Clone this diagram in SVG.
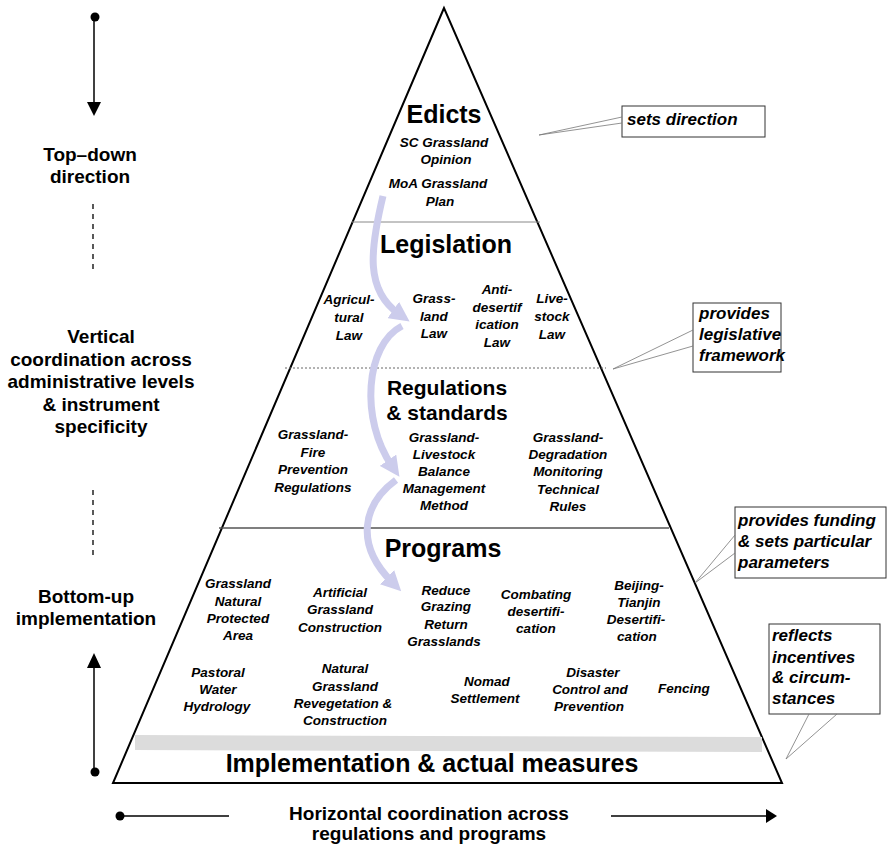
<svg xmlns="http://www.w3.org/2000/svg" width="887" height="845" viewBox="0 0 887 845">
<style>
.t{font-family:"Liberation Sans",Arial,sans-serif;font-weight:bold;text-anchor:middle;fill:#000}
.side{font-size:19px}
.lvl{font-size:25px}
.it{font-style:italic;font-size:13.5px}
.co{font-style:italic;font-size:17px;text-anchor:start}
.box{fill:#fff;stroke:#333;stroke-width:1}
.ptr{fill:none;stroke:#777;stroke-width:0.8}
.flow{fill:none;stroke:#ccccec;stroke-width:7}
</style>
<defs>
<marker id="fh" viewBox="0 -10 20 20" refX="7" refY="0" markerWidth="20" markerHeight="20" markerUnits="userSpaceOnUse" orient="auto">
<path d="M0,-10 L20,0 L0,10 z" fill="#ccccec"/>
</marker>
</defs>
<g id="pyramid">
<polygon points="444,8 113,783 782,783" fill="#fff" stroke="#000" stroke-width="2"/>
<polygon points="135,735 762,737 762,752 135,750" fill="#dcdcdc"/>
<line x1="352" y1="222" x2="540" y2="222" stroke="#888" stroke-width="1"/>
<line x1="285" y1="368" x2="606" y2="368" stroke="#666" stroke-width="1" stroke-dasharray="2,2"/>
<line x1="219" y1="528" x2="669" y2="528" stroke="#555" stroke-width="1.3"/>
</g>
<g id="connectors">
<path class="flow" d="M383,196 C370,250 365,290 399,314" marker-end="url(#fh)"/>
<path class="flow" d="M402,326 C365,345 360,420 392,466" marker-end="url(#fh)"/>
<path class="flow" d="M396,480 C362,505 355,545 392,582" marker-end="url(#fh)"/>
<line x1="94" y1="17" x2="94" y2="104" stroke="#000" stroke-width="1.5"/>
<polygon points="87,102 101,102 94,116" fill="#000"/>
<circle cx="95" cy="17" r="4.5" fill="#000"/>
<line x1="93" y1="204" x2="93" y2="272" stroke="#000" stroke-width="1.3" stroke-dasharray="5,5"/>
<line x1="93" y1="490" x2="93" y2="557" stroke="#000" stroke-width="1.3" stroke-dasharray="5,5"/>
<line x1="94" y1="667" x2="94" y2="772" stroke="#000" stroke-width="1.5"/>
<polygon points="87,668 101,668 94,653" fill="#000"/>
<circle cx="95" cy="772" r="4.5" fill="#000"/>
<line x1="120" y1="816" x2="229" y2="816" stroke="#000" stroke-width="1.5"/>
<circle cx="120" cy="816" r="4.5" fill="#000"/>
<line x1="611" y1="816" x2="767" y2="816" stroke="#000" stroke-width="1.5"/>
<polygon points="766,809 766,823 777,816" fill="#000"/>
</g>
<g id="side-labels">
<text class="t side" x="90" y="161">Top–down</text>
<text class="t side" x="90" y="183">direction</text>
<text class="t side" x="101" y="343">Vertical</text>
<text class="t side" x="101" y="366">coordination across</text>
<text class="t side" x="101" y="388">administrative levels</text>
<text class="t side" x="101" y="411">&amp; instrument</text>
<text class="t side" x="101" y="433">specificity</text>
<text class="t side" x="86" y="603">Bottom-up</text>
<text class="t side" x="86" y="625">implementation</text>
<text class="t side" x="429" y="820">Horizontal coordination across</text>
<text class="t side" x="429" y="840">regulations and programs</text>
</g>
<g id="edicts">
<text class="t lvl" x="444" y="123">Edicts</text>
<text class="t it" x="444" y="147">SC Grassland</text>
<text class="t it" x="446" y="164">Opinion</text>
<text class="t it" x="438" y="188">MoA Grassland</text>
<text class="t it" x="440" y="206">Plan</text>
</g>
<g id="legislation">
<text class="t lvl" x="446" y="253">Legislation</text>
<text class="t it" x="349" y="304">Agricul-</text>
<text class="t it" x="349" y="322">tural</text>
<text class="t it" x="349" y="340">Law</text>
<text class="t it" x="434" y="303">Grass-</text>
<text class="t it" x="434" y="320.5">land</text>
<text class="t it" x="434" y="338">Law</text>
<text class="t it" x="497" y="294">Anti-</text>
<text class="t it" x="497" y="312">desertif</text>
<text class="t it" x="497" y="329">ication</text>
<text class="t it" x="497" y="347">Law</text>
<text class="t it" x="552" y="303">Live-</text>
<text class="t it" x="552" y="321">stock</text>
<text class="t it" x="552" y="339">Law</text>
</g>
<g id="regulations">
<text class="t" style="font-size:21px" x="447" y="395">Regulations</text>
<text class="t" style="font-size:21px" x="447" y="420">&amp; standards</text>
<text class="t it" x="313" y="439">Grassland-</text>
<text class="t it" x="313" y="457">Fire</text>
<text class="t it" x="313" y="474">Prevention</text>
<text class="t it" x="313" y="492">Regulations</text>
<text class="t it" x="444" y="442">Grassland-</text>
<text class="t it" x="444" y="459">Livestock</text>
<text class="t it" x="444" y="476">Balance</text>
<text class="t it" x="444" y="493">Management</text>
<text class="t it" x="444" y="510">Method</text>
<text class="t it" x="568" y="442">Grassland-</text>
<text class="t it" x="568" y="459">Degradation</text>
<text class="t it" x="568" y="476">Monitoring</text>
<text class="t it" x="568" y="494">Technical</text>
<text class="t it" x="568" y="511">Rules</text>
</g>
<g id="programs">
<text class="t lvl" x="443" y="557">Programs</text>
<text class="t it" x="238" y="588">Grassland</text>
<text class="t it" x="238" y="606">Natural</text>
<text class="t it" x="238" y="623">Protected</text>
<text class="t it" x="238" y="640">Area</text>
<text class="t it" x="340" y="597">Artificial</text>
<text class="t it" x="340" y="614">Grassland</text>
<text class="t it" x="340" y="632">Construction</text>
<text class="t it" x="446" y="595">Reduce</text>
<text class="t it" x="446" y="611">Grazing</text>
<text class="t it" x="446" y="629">Return</text>
<text class="t it" x="444" y="646">Grasslands</text>
<text class="t it" x="536" y="599">Combating</text>
<text class="t it" x="536" y="616">desertifi-</text>
<text class="t it" x="536" y="633">cation</text>
<text class="t it" x="639" y="590">Beijing-</text>
<text class="t it" x="639" y="607">Tianjin</text>
<text class="t it" x="636" y="624">Desertifi-</text>
<text class="t it" x="637" y="641">cation</text>
<text class="t it" x="218" y="677">Pastoral</text>
<text class="t it" x="218" y="694">Water</text>
<text class="t it" x="217" y="711">Hydrology</text>
<text class="t it" x="345" y="673">Natural</text>
<text class="t it" x="345" y="691">Grassland</text>
<text class="t it" x="343" y="708">Revegetation &amp;</text>
<text class="t it" x="345" y="725">Construction</text>
<text class="t it" x="487" y="686">Nomad</text>
<text class="t it" x="485" y="703">Settlement</text>
<text class="t it" x="593" y="677">Disaster</text>
<text class="t it" x="590" y="694">Control and</text>
<text class="t it" x="589" y="711">Prevention</text>
<text class="t it" x="684" y="693">Fencing</text>
</g>
<g id="implementation">
<text class="t lvl" x="432" y="772">Implementation &amp; actual measures</text>
</g>
<g id="callout-direction">
<rect class="box" x="622" y="106" width="143" height="31"/>
<polyline class="ptr" points="622,117 539,135 622,123"/>
<text class="t co" x="627" y="125">sets direction</text>
</g>
<g id="callout-legislative">
<rect class="box" x="693" y="303" width="88" height="69"/>
<polyline class="ptr" points="693,330 613,369 693,346"/>
<text class="t co" x="699" y="319">provides</text>
<text class="t co" x="699" y="340">legislative</text>
<text class="t co" x="699" y="361">framework</text>
</g>
<g id="callout-funding">
<rect class="box" x="735" y="507" width="151" height="71"/>
<polyline class="ptr" points="735,535 695,583 735,553"/>
<text class="t co" x="738" y="526">provides funding</text>
<text class="t co" x="738" y="547">&amp; sets particular</text>
<text class="t co" x="738" y="568">parameters</text>
</g>
<g id="callout-reflects">
<rect class="box" x="769" y="624" width="111" height="90"/>
<polyline class="ptr" points="809,714 786,759 837,714"/>
<text class="t co" x="772" y="641">reflects</text>
<text class="t co" x="772" y="663">incentives</text>
<text class="t co" x="772" y="683">&amp; circum-</text>
<text class="t co" x="772" y="704">stances</text>
</g>
</svg>
